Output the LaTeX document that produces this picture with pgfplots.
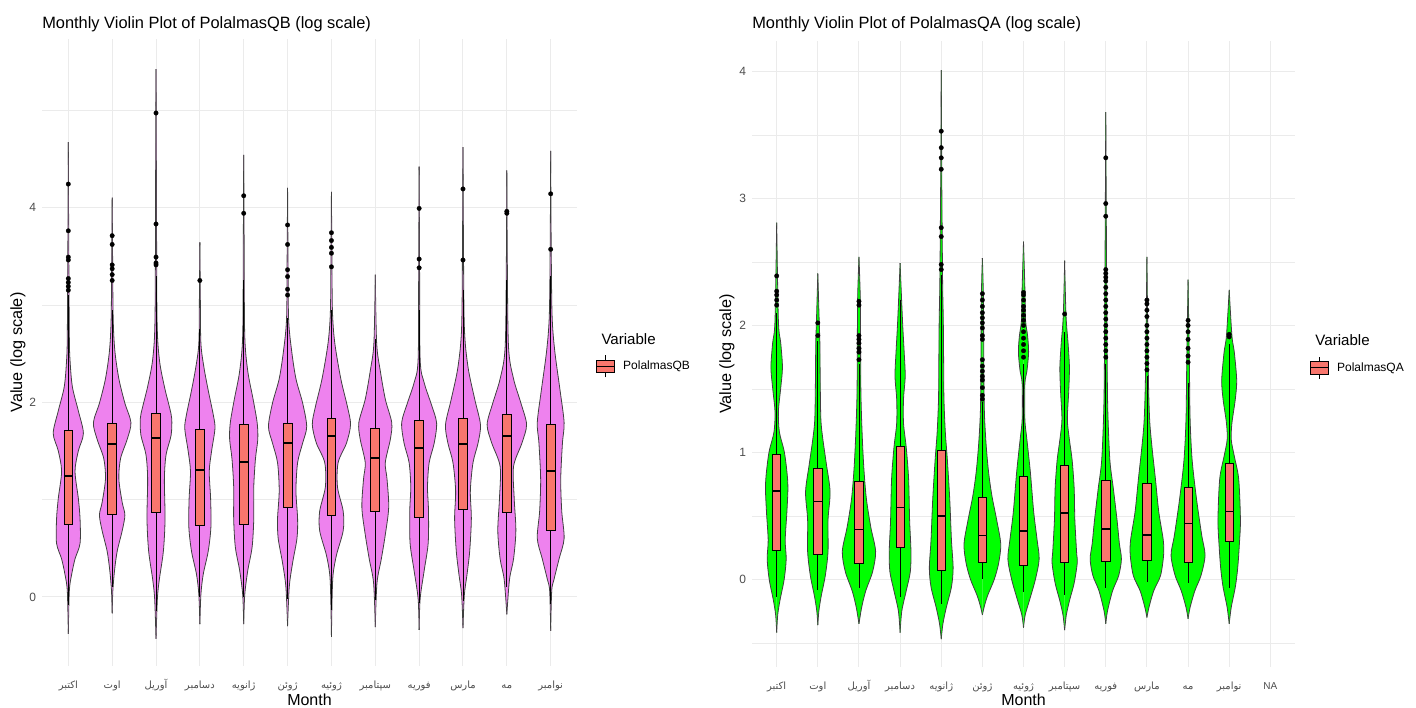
\documentclass[border=0pt]{standalone}
\usepackage{pgfplots}
\pgfplotsset{compat=1.18}
\usepgfplotslibrary{statistics}
\usepackage{pgfplotstable}
\usepackage{fontspec}
\setmainfont{Liberation Sans}
\newfontfamily\arabicfont[Script=Arabic]{DejaVu Sans}
\TeXXeTstate=1
\newcommand\fa[1]{{\arabicfont\beginR#1\endR}}
\definecolor{violetfill}{HTML}{EE82EE}
\definecolor{greenfill}{HTML}{00FF00}
\definecolor{boxred}{HTML}{F8766D}
\definecolor{gridc}{HTML}{EBEBEB}
\definecolor{tickc}{HTML}{4D4D4D}

% ---------- violin profiles (y = value, w = half width in category units) ----------
\pgfplotstableread{
y w
-0.38 0
0.06 0.023
0.23 0.076
0.39 0.153
0.55 0.268
0.80 0.268
1.01 0.229
1.29 0.153
1.50 0.229
1.68 0.344
1.91 0.229
2.16 0.092
2.44 0.038
2.69 0.023
3.60 0.010
4.67 0
}\qbA
\pgfplotstableread{
y w
-0.17 0
0.06 0.015
0.27 0.054
0.47 0.115
0.68 0.229
0.84 0.290
0.97 0.229
1.21 0.153
1.42 0.191
1.62 0.344
1.79 0.428
1.99 0.290
2.24 0.153
2.53 0.061
2.86 0.023
3.50 0.010
4.10 0
}\qbB
\pgfplotstableread{
y w
-0.43 0
-0.02 0.031
0.18 0.076
0.47 0.168
0.80 0.206
1.21 0.191
1.46 0.229
1.66 0.344
1.83 0.359
1.95 0.306
2.16 0.191
2.44 0.076
2.86 0.023
4.20 0.010
5.42 0
}\qbC
\pgfplotstableread{
y w
-0.28 0
0.02 0.023
0.23 0.076
0.47 0.191
0.72 0.252
1.01 0.245
1.29 0.214
1.50 0.268
1.73 0.344
1.87 0.306
2.12 0.191
2.36 0.092
2.61 0.023
3.10 0.010
3.64 0
}\qbD
\pgfplotstableread{
y w
-0.28 0
0.02 0.023
0.27 0.092
0.51 0.191
0.80 0.229
1.13 0.229
1.42 0.268
1.62 0.321
1.79 0.306
2.03 0.214
2.32 0.092
2.69 0.023
3.60 0.010
4.54 0
}\qbE
\pgfplotstableread{
y w
-0.30 0
0.10 0.038
0.35 0.115
0.60 0.214
0.80 0.229
1.09 0.191
1.38 0.229
1.58 0.344
1.75 0.436
1.99 0.344
2.24 0.191
2.53 0.092
2.86 0.023
3.50 0.010
4.20 0
}\qbF
\pgfplotstableread{
y w
-0.41 0
-0.02 0.015
0.23 0.038
0.43 0.115
0.68 0.268
0.88 0.268
1.13 0.138
1.38 0.153
1.58 0.344
1.77 0.436
1.95 0.367
2.24 0.214
2.61 0.076
2.94 0.023
3.55 0.010
4.16 0
}\qbG
\pgfplotstableread{
y w
-0.31 0
0.14 0.038
0.39 0.138
0.64 0.229
0.92 0.306
1.21 0.268
1.38 0.229
1.62 0.344
1.79 0.375
2.03 0.229
2.32 0.115
2.61 0.031
3.31 0
}\qbH
\pgfplotstableread{
y w
-0.34 0
-0.02 0.023
0.27 0.115
0.55 0.206
0.88 0.214
1.13 0.191
1.38 0.229
1.58 0.344
1.79 0.398
1.99 0.268
2.20 0.115
2.44 0.023
3.40 0.010
4.42 0
}\qbI
\pgfplotstableread{
y w
-0.32 0
0.02 0.031
0.23 0.092
0.47 0.153
0.80 0.191
1.09 0.168
1.38 0.229
1.58 0.344
1.77 0.398
2.03 0.268
2.36 0.115
2.77 0.031
3.70 0.010
4.62 0
}\qbJ
\pgfplotstableread{
y w
-0.18 0
0.18 0.061
0.39 0.153
0.68 0.206
1.01 0.168
1.34 0.153
1.58 0.344
1.77 0.450
1.99 0.321
2.24 0.153
2.57 0.038
3.50 0.010
4.38 0
}\qbK
\pgfplotstableread{
y w
-0.35 0
0.06 0.023
0.18 0.076
0.39 0.191
0.60 0.306
0.88 0.252
1.21 0.229
1.58 0.268
1.79 0.306
2.12 0.214
2.53 0.092
2.90 0.031
3.70 0.010
4.58 0
}\qbL

\pgfplotstableread{
y w
-0.42 0
-0.28 0.025
-0.16 0.083
0.00 0.182
0.16 0.231
0.31 0.207
0.53 0.248
0.72 0.273
0.85 0.248
1.01 0.182
1.16 0.066
1.32 0.041
1.51 0.099
1.67 0.140
1.86 0.099
2.04 0.041
2.81 0
}\qaA
\pgfplotstableread{
y w
-0.36 0
-0.25 0.025
-0.13 0.083
0.03 0.182
0.22 0.248
0.47 0.248
0.69 0.298
0.91 0.207
1.10 0.124
1.26 0.074
1.57 0.058
1.86 0.050
2.04 0.033
2.41 0
}\qaB
\pgfplotstableread{
y w
-0.35 0
-0.22 0.066
-0.09 0.165
0.06 0.331
0.22 0.405
0.41 0.289
0.63 0.182
0.85 0.124
1.10 0.083
1.42 0.050
1.73 0.041
2.20 0.033
2.54 0
}\qaC
\pgfplotstableread{
y w
-0.42 0
-0.25 0.041
-0.09 0.149
0.06 0.248
0.22 0.264
0.47 0.231
0.79 0.207
1.04 0.149
1.23 0.083
1.42 0.083
1.60 0.124
1.79 0.099
2.04 0.058
2.49 0
}\qaD
\pgfplotstableread{
y w
-0.47 0
-0.35 0.041
-0.22 0.124
-0.06 0.248
0.09 0.289
0.31 0.248
0.63 0.207
0.94 0.149
1.16 0.099
1.42 0.066
1.73 0.058
2.04 0.050
2.36 0.033
3.20 0.012
4.01 0
}\qaE
\pgfplotstableread{
y w
-0.28 0
-0.22 0.041
-0.13 0.124
0.00 0.289
0.13 0.397
0.28 0.446
0.47 0.347
0.66 0.231
0.85 0.149
1.10 0.083
1.42 0.041
2.20 0.025
2.53 0
}\qaF
\pgfplotstableread{
y w
-0.38 0
-0.28 0.041
-0.16 0.149
0.00 0.289
0.16 0.380
0.31 0.331
0.53 0.248
0.85 0.165
1.10 0.083
1.26 0.033
1.54 0.033
1.64 0.083
1.79 0.124
1.92 0.099
2.04 0.050
2.30 0.033
2.66 0
}\qaG
\pgfplotstableread{
y w
-0.40 0
-0.28 0.041
-0.16 0.124
-0.03 0.231
0.13 0.306
0.22 0.289
0.47 0.248
0.72 0.231
0.94 0.182
1.10 0.116
1.26 0.066
1.48 0.099
1.67 0.116
1.86 0.083
2.08 0.033
2.51 0
}\qaH
\pgfplotstableread{
y w
-0.35 0
-0.25 0.041
-0.09 0.165
0.03 0.314
0.16 0.380
0.28 0.331
0.47 0.273
0.72 0.182
0.94 0.099
1.32 0.050
1.73 0.033
2.70 0.015
3.68 0
}\qaI
\pgfplotstableread{
y w
-0.30 0
-0.22 0.050
-0.09 0.165
0.03 0.331
0.19 0.405
0.31 0.397
0.53 0.289
0.79 0.207
1.04 0.124
1.26 0.066
1.64 0.033
2.54 0
}\qaJ
\pgfplotstableread{
y w
-0.31 0
-0.22 0.050
-0.09 0.165
0.03 0.314
0.19 0.413
0.35 0.331
0.63 0.207
0.94 0.099
1.26 0.050
1.67 0.033
2.36 0
}\qaK
\pgfplotstableread{
y w
-0.35 0
-0.22 0.050
-0.06 0.149
0.09 0.207
0.28 0.248
0.47 0.273
0.79 0.231
0.97 0.124
1.10 0.050
1.23 0.066
1.42 0.149
1.57 0.182
1.79 0.124
1.92 0.066
2.28 0
}\qaL

% violin: position, table, colour  (each half is filled; fill closes along the centre line)
\newcommand\violin[3]{%
  \addplot[fill=#3, draw=black!75, line width=0.6pt, smooth] table[x expr=#1+\thisrow{w}, y=y] {#2};
  \addplot[fill=#3, draw=black!75, line width=0.6pt, smooth] table[x expr=#1-\thisrow{w}, y=y] {#2};
}
% box: position, lower whisker, q1, median, q3, upper whisker, outliers
\newcommand\bx[7]{%
  \addplot[bxs, boxplot prepared={draw position=#1, lower whisker=#2, lower quartile=#3,
    median=#4, upper quartile=#5, upper whisker=#6}] table[row sep=\\, y index=0] {#7};
}
% box without outliers (the one listed point is the whisker end, drawn with an empty mark)
\newcommand\bxn[6]{%
  \addplot[bxs, mark size=0pt, mark options={draw=none, fill=none, opacity=0},
    boxplot prepared={draw position=#1, lower whisker=#2, lower quartile=#3,
    median=#4, upper quartile=#5, upper whisker=#6}] table[row sep=\\, y index=0] {#6\\};
}

\pgfplotsset{
  bxs/.style={fill=boxred, draw=black, line width=0.6pt, mark=*, mark size=1.7pt,
    mark options={fill=black, draw=black, line width=0.2pt},
    boxplot/draw direction=y,
    boxplot/box extend=0.2, boxplot/whisker extend=0,
    boxplot/every median/.style={line width=1.4pt}},
  vplot/.style={
    scale only axis, clip=false,
    axis line style={draw=none}, tick style={draw=none},
    major tick length=0pt, minor tick length=0pt,
    xmajorgrids, ymajorgrids, yminorgrids,
    major grid style={gridc, line width=0.75pt},
    minor grid style={gridc, line width=0.45pt},
    ticklabel style={font=\fontsize{9}{10}\selectfont, text=tickc},
    yticklabel style={xshift=-1pt},
    xticklabel style={anchor=base, yshift=-17pt, font=\fontsize{7.5}{9}\selectfont},
    /pgf/number format/assume math mode=true,
    xmin=0.4,
    every axis title/.style={anchor=west, inner sep=0pt, font=\fontsize{12.3}{14}\selectfont},
    every axis y label/.style={rotate=90, anchor=center, font=\fontsize{12.2}{14}\selectfont},
    every axis x label/.style={anchor=center, font=\fontsize{12}{14}\selectfont},
    xlabel=Month, ylabel={Value (log scale)},
    legend style={draw=none, fill=none, anchor=west, inner sep=0pt,
      font=\fontsize{9}{10}\selectfont, legend cell align=left, column sep=4pt},
  },
  bxlegend/.style={legend image code/.code={
    \draw[black, line width=0.5pt] (0.235cm,-0.29cm) -- (0.235cm,0.29cm);
    \draw[black, line width=0.5pt, fill=boxred] (0cm,-0.16cm) rectangle (0.47cm,0.16cm);
    \draw[black, line width=1pt] (0cm,0cm) -- (0.47cm,0cm);}},
}

\begin{document}
\begin{tikzpicture}
\path[use as bounding box] (0,0) rectangle (1062pt,-530.25pt);

% ================= left panel =================
\begin{axis}[vplot,
  at={(31.5pt,-499.5pt)}, anchor=south west,
  width=401.25pt, height=470.25pt,
  xmax=12.6, ymin=-0.71, ymax=5.73,
  xtick={1,...,12},
  xticklabels={\fa{اکتبر},\fa{اوت},\fa{آوریل},\fa{دسامبر},\fa{ژانویه},\fa{ژوئن},\fa{ژوئیه},\fa{سپتامبر},\fa{فوریه},\fa{مارس},\fa{مه},\fa{نوامبر}},
  ytick={0,2,4}, minor ytick={1,3,5},
  title={Monthly Violin Plot of PolalmasQB (log scale)},
  title style={at={(axis description cs:0,1.024)}},
  every axis y label/.append style={at={(axis description cs:-0.045,0.5)}},
  every axis x label/.append style={at={(axis description cs:0.5,-0.054)}},
  legend style={at={(axis description cs:1.035,0.478)}},
]
\addlegendimage{bxlegend}
\addlegendentry{PolalmasQB}

\violin{1}{\qbA}{violetfill}
\violin{2}{\qbB}{violetfill}
\violin{3}{\qbC}{violetfill}
\violin{4}{\qbD}{violetfill}
\violin{5}{\qbE}{violetfill}
\violin{6}{\qbF}{violetfill}
\violin{7}{\qbG}{violetfill}
\violin{8}{\qbH}{violetfill}
\violin{9}{\qbI}{violetfill}
\violin{10}{\qbJ}{violetfill}
\violin{11}{\qbK}{violetfill}
\violin{12}{\qbL}{violetfill}

\bx{1}{-0.08}{0.748}{1.245}{1.705}{3.10}{4.24\\3.76\\3.49\\3.46\\3.27\\3.23\\3.19\\3.15\\}
\bx{2}{0.10}{0.850}{1.569}{1.787}{2.95}{3.71\\3.62\\3.41\\3.37\\3.31\\3.25\\}
\bx{3}{-0.15}{0.863}{1.630}{1.880}{3.30}{4.97\\3.83\\3.49\\3.43\\3.41\\}
\bx{4}{0.00}{0.735}{1.302}{1.717}{2.75}{3.25\\}
\bx{5}{0.00}{0.748}{1.389}{1.767}{3.25}{4.12\\3.94\\}
\bx{6}{-0.02}{0.924}{1.582}{1.787}{2.86}{3.82\\3.62\\3.36\\3.29\\3.16\\3.10\\}
\bx{7}{-0.13}{0.842}{1.652}{1.836}{2.95}{3.74\\3.66\\3.59\\3.53\\3.39\\}
\bxn{8}{-0.03}{0.875}{1.426}{1.734}{2.65}
\bx{9}{-0.06}{0.818}{1.528}{1.816}{2.95}{3.99\\3.47\\3.38\\}
\bx{10}{-0.04}{0.900}{1.574}{1.830}{3.15}{4.19\\3.46\\}
\bx{11}{0.10}{0.871}{1.652}{1.870}{3.25}{3.96\\3.94\\}
\bx{12}{-0.07}{0.678}{1.294}{1.775}{3.30}{4.14\\3.57\\}

\node[anchor=west, font=\fontsize{11.3}{13}\selectfont] at (axis description cs:1.037,0.5215) {Variable};
\end{axis}

% ================= right panel =================
\begin{axis}[vplot,
  at={(564pt,-500.25pt)}, anchor=south west,
  width=407.25pt, height=469.5pt,
  xmax=13.6, ymin=-0.69, ymax=4.24,
  xtick={1,...,13},
  xticklabels={\fa{اکتبر},\fa{اوت},\fa{آوریل},\fa{دسامبر},\fa{ژانویه},\fa{ژوئن},\fa{ژوئیه},\fa{سپتامبر},\fa{فوریه},\fa{مارس},\fa{مه},\fa{نوامبر},NA},
  ytick={0,1,2,3,4}, minor ytick={-0.5,0.5,1.5,2.5,3.5},
  title={Monthly Violin Plot of PolalmasQA (log scale)},
  title style={at={(axis description cs:0,1.027)}},
  every axis y label/.append style={at={(axis description cs:-0.046,0.5)}},
  every axis x label/.append style={at={(axis description cs:0.5,-0.053)}},
  legend style={at={(axis description cs:1.027,0.478)}},
]
\addlegendimage{bxlegend}
\addlegendentry{PolalmasQA}

\violin{1}{\qaA}{greenfill}
\violin{2}{\qaB}{greenfill}
\violin{3}{\qaC}{greenfill}
\violin{4}{\qaD}{greenfill}
\violin{5}{\qaE}{greenfill}
\violin{6}{\qaF}{greenfill}
\violin{7}{\qaG}{greenfill}
\violin{8}{\qaH}{greenfill}
\violin{9}{\qaI}{greenfill}
\violin{10}{\qaJ}{greenfill}
\violin{11}{\qaK}{greenfill}
\violin{12}{\qaL}{greenfill}

\bx{1}{-0.14}{0.226}{0.698}{0.984}{2.10}{2.39\\2.27\\2.24\\2.20\\2.16\\}
\bx{2}{-0.08}{0.195}{0.613}{0.871}{1.88}{2.02\\1.92\\}
\bx{3}{-0.07}{0.126}{0.393}{0.770}{1.70}{2.19\\2.16\\1.92\\1.89\\1.86\\1.82\\1.79\\1.73\\}
\bxn{4}{-0.14}{0.252}{0.566}{1.044}{2.20}
\bx{5}{-0.19}{0.069}{0.497}{1.013}{2.40}{3.53\\3.40\\3.32\\3.23\\2.77\\2.70\\2.48\\2.44\\}
\bx{6}{0.00}{0.135}{0.346}{0.645}{1.40}{2.25\\2.20\\2.15\\2.10\\2.06\\2.02\\1.98\\1.92\\1.89\\1.73\\1.68\\1.64\\1.60\\1.57\\1.51\\1.45\\1.42\\}
\bx{7}{-0.10}{0.107}{0.384}{0.811}{1.70}{2.26\\2.24\\2.20\\2.15\\2.12\\2.08\\2.04\\2.00\\1.95\\1.90\\1.85\\1.80\\1.75\\}
\bx{8}{-0.12}{0.135}{0.525}{0.896}{1.95}{2.09\\}
\bx{9}{-0.07}{0.142}{0.400}{0.780}{1.70}{3.32\\2.96\\2.86\\2.44\\2.41\\2.38\\2.35\\2.30\\2.25\\2.20\\2.15\\2.10\\2.05\\2.00\\1.95\\1.90\\1.85\\1.80\\1.75\\}
\bx{10}{-0.02}{0.151}{0.352}{0.755}{1.60}{2.20\\2.17\\2.12\\2.07\\2.00\\1.95\\1.90\\1.85\\1.80\\1.75\\1.70\\1.65\\}
\bx{11}{-0.03}{0.135}{0.440}{0.723}{1.55}{2.04\\2.00\\1.95\\1.89\\1.82\\1.76\\1.71\\}
\bx{12}{-0.07}{0.296}{0.535}{0.912}{1.85}{1.93\\1.91\\}

\node[anchor=west, font=\fontsize{11.3}{13}\selectfont] at (axis description cs:1.029,0.522) {Variable};
\end{axis}
\end{tikzpicture}
\end{document}
